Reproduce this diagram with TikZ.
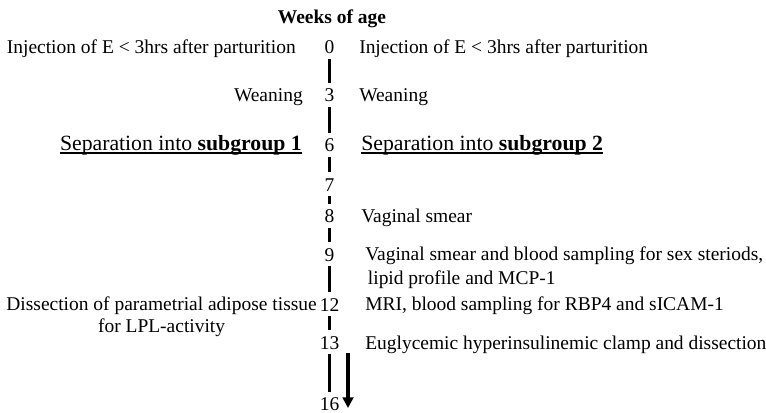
\documentclass[tikz,border=0pt]{standalone}
\usepackage{fontspec}
\setmainfont{Liberation Serif}
\usetikzlibrary{arrows.meta}
\newcommand{\ulc}[1]{\setbox0\hbox{#1}\rlap{\rule[-2pt]{\wd0}{1pt}}\box0}
\begin{document}
\begin{tikzpicture}[x=0.75pt,y=-0.75pt,
  txt/.style={inner sep=0pt,font=\fontsize{14.6}{18}\selectfont},
  lt/.style={txt,anchor=base east},
  rt/.style={txt,anchor=base west},
  septxt/.style={inner sep=0pt,font=\fontsize{16.3}{19}\selectfont},
  num/.style={txt,anchor=base,text height=10pt,text depth=0pt},
  seg/.style={line width=2.5pt,shorten <=3.75pt,shorten >=3.75pt},
  arr/.style={line width=2.5pt,-{Triangle[width=8pt,length=8pt]}}]
\useasboundingbox (0,0) rectangle (766,413);

% title
\node[txt,anchor=base,font=\fontsize{14.6}{18}\selectfont\bfseries] (title) at (332,24) {Weeks of age};

% week numbers
\node[num] (n0)  at (329.5,54)  {0};
\node[num] (n3)  at (329.5,102) {3};
\node[num] (n6)  at (329.5,152) {6};
\node[num] (n7)  at (329.5,191) {7};
\node[num] (n8)  at (329.5,223) {8};
\node[num] (n9)  at (329.5,261) {9};
\node[num] (n12) at (329.5,311) {12};
\node[num] (n13) at (329.5,349) {13};
\node[num] (n16) at (329.5,410.5) {16};

% timeline
\draw[seg] (n0) -- (n3);
\draw[seg] (n3) -- (n6);
\draw[seg] (n6) -- (n7);
\draw[seg] (n7) -- (n8);
\draw[seg] (n8) -- (n9);
\draw[seg] (n9) -- (n12);
\draw[seg] (n12) -- (n13);
\draw[seg] (n13) -- (n16);

% arrow
\coordinate (a1) at (348,353);
\coordinate (a2) at (348,408);
\draw[arr] (a1) -- (a2);

% left texts (subgroup 1)
\node[lt] (l0) at (296,54) {Injection of E < 3hrs after parturition};
\node[lt] (l3) at (303,102) {Weaning};
\node[septxt,anchor=base east] (l6) at (302,151) {\ulc{Separation into \textbf{subgroup 1}}};
\node[txt,anchor=base east,align=center,font=\fontsize{14.6}{16.5}\selectfont] (l12) at (317,332)
  {Dissection of parametrial adipose tissue\\for LPL-activity};

% right texts (subgroup 2)
\node[rt] (r0) at (359,54) {Injection of E < 3hrs after parturition};
\node[rt] (r3) at (359,102) {Weaning};
\node[septxt,anchor=base west] (r6) at (361,151) {\ulc{Separation into \textbf{subgroup 2}}};
\node[rt] (r8) at (361,223) {Vaginal smear};
\node[rt,align=left] (r9) at (365,284)
  {Vaginal smear and blood sampling for sex steriods,\\\hspace{2pt}lipid profile and MCP-1};
\node[rt] (r12) at (365,310) {MRI, blood sampling for RBP4 and sICAM-1};
\node[rt] (r13) at (365,349) {Euglycemic hyperinsulinemic clamp and dissection};
\end{tikzpicture}
\end{document}
